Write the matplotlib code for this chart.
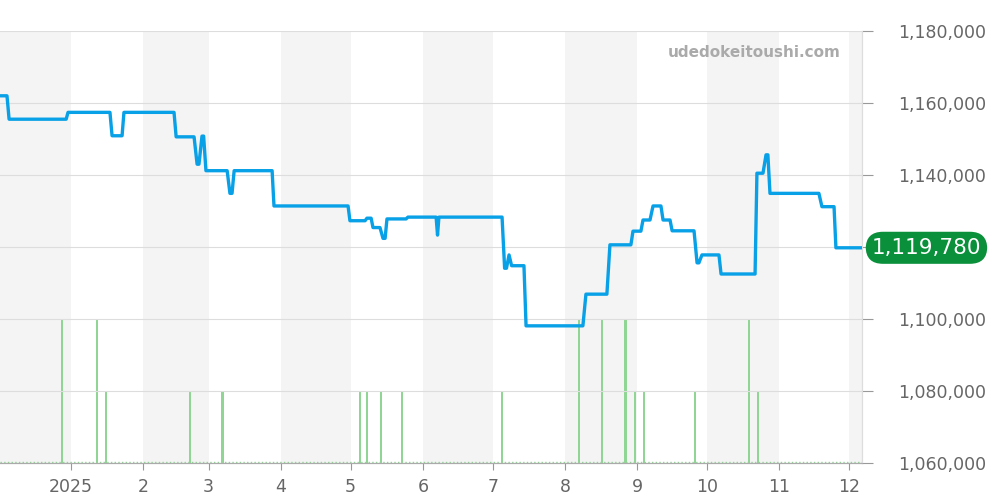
import matplotlib.pyplot as plt
import numpy as np

# days counted from 2025-01-01
price_days = [-30.5, -27.5, -26.6, -2.1, -1.3, 16.7, 17.6, 21.9, 22.7, 44.2, 45.1,
              52.8, 54.1, 54.9, 56.2, 56.9, 57.9, 67.0, 68.2, 69.1, 70.0, 86.3, 87.1,
              118.9, 119.7, 126.2, 127.0, 128.8, 129.6, 132.6, 133.9, 134.8, 135.6,
              143.8, 144.6, 156.7, 157.3, 157.9, 185.0, 186.1, 186.9, 188.0, 189.1,
              194.4, 195.3, 219.7, 221.0, 230.0, 231.3, 240.3, 241.2, 244.6, 245.5,
              248.5, 249.8, 253.2, 254.1, 257.1, 258.0, 267.4, 268.7, 269.5, 270.8,
              278.1, 279.0, 293.6, 294.4, 297.0, 298.3, 299.1, 300.0, 321.0, 322.3,
              327.5, 328.3, 339.5]
price_vals = [1162000, 1162000, 1155500, 1155500, 1157400, 1157400, 1150900, 1150900,
              1157400, 1157400, 1150600, 1150600, 1143000, 1143000, 1150800, 1150800,
              1141200, 1141200, 1134900, 1134900, 1141200, 1141200, 1131400, 1131400,
              1127300, 1127300, 1128000, 1128000, 1125400, 1125400, 1122400, 1122400,
              1127800, 1127800, 1128300, 1128300, 1123300, 1128300, 1128300, 1114100,
              1114100, 1117800, 1114800, 1114800, 1098100, 1098100, 1106900, 1106900,
              1120600, 1120600, 1124400, 1124400, 1127500, 1127500, 1131400, 1131400,
              1127500, 1127500, 1124500, 1124500, 1115600, 1115600, 1117800, 1117800,
              1112500, 1112500, 1140500, 1140500, 1145600, 1145600, 1134900, 1134900,
              1131200, 1131200, 1119780, 1119780]

vol_days = [-4, 11, 15, 51, 65, 124, 127, 133, 142, 185, 218, 228, 238, 242, 246,
            268, 291, 295]
vol_vals = [2, 2, 1, 1, 1, 1, 1, 1, 1, 1, 2, 2, 2, 1, 1, 1, 2, 1]

month_starts = [0, 31, 59, 90, 120, 151, 181, 212, 243, 273, 304, 334]
month_labels = ['2025', '2', '3', '4', '5', '6', '7', '8', '9', '10', '11', '12']
shaded_months = [(-31, 0), (31, 59), (90, 120), (151, 181), (212, 243), (273, 304), (334, 365)]

price_ticks = list(range(1060000, 1180001, 20000))
last_price = 1119780
gray = '#666666'

fig = plt.figure(figsize=(10, 5), dpi=100)
ax2 = fig.add_axes([0, 0.074, 0.862, 0.864])
ax = ax2.twinx()

# background month bands and volume bars on the lower axes
for a, b in shaded_months:
    ax2.axvspan(a, b, color='#f4f4f4', zorder=0, lw=0)
ax2.bar(vol_days, vol_vals, width=0.9, color='#8fd694', zorder=2)
ax2.axhline(0.02, color='#8fd694', lw=1, ls=':', zorder=2)
ax2.set_ylim(0, 6)
ax2.set_yticks([])
ax2.set_xlim(-30.5, 339.5)

ax.set_ylim(1060000, 1180000)
ax.set_yticks(price_ticks)
ax.grid(axis='y', color='#dddddd', lw=0.8, zorder=1)

ax.plot(price_days, price_vals, color='#08a0e6', lw=2.4, zorder=5, solid_joinstyle='round')

ax.set_yticklabels(['' if v == 1120000 else '{:,}'.format(v) for v in price_ticks])
ax.tick_params(axis='y', colors='#999999', labelcolor=gray, labelsize=12.5, length=8, pad=18)
ax2.set_xticks(month_starts)
ax2.set_xticklabels(month_labels)
ax2.tick_params(axis='x', colors='#999999', labelcolor=gray, labelsize=12.5, length=5, pad=6)

for a in (ax, ax2):
    for s in ('top', 'left'):
        a.spines[s].set_visible(False)
    a.spines['right'].set_color('#dddddd')
    a.spines['bottom'].set_color('#aaaaaa')

ax.text(0.975, 0.95, 'udedokeitoushi.com', transform=ax.transAxes, ha='right', va='center',
        color='#aaaaaa', fontsize=11, fontweight='bold')

ax.annotate('{:,}'.format(last_price), xy=(1.0, last_price), xycoords=('axes fraction', 'data'),
            xytext=(7, 0), textcoords='offset points', ha='left', va='center',
            color='white', fontsize=15.5,
            bbox=dict(boxstyle='round,pad=0.28,rounding_size=0.8', fc='#0a8f3a', ec='none'),
            annotation_clip=False, zorder=10)

fig.savefig('out.png', dpi=100)
